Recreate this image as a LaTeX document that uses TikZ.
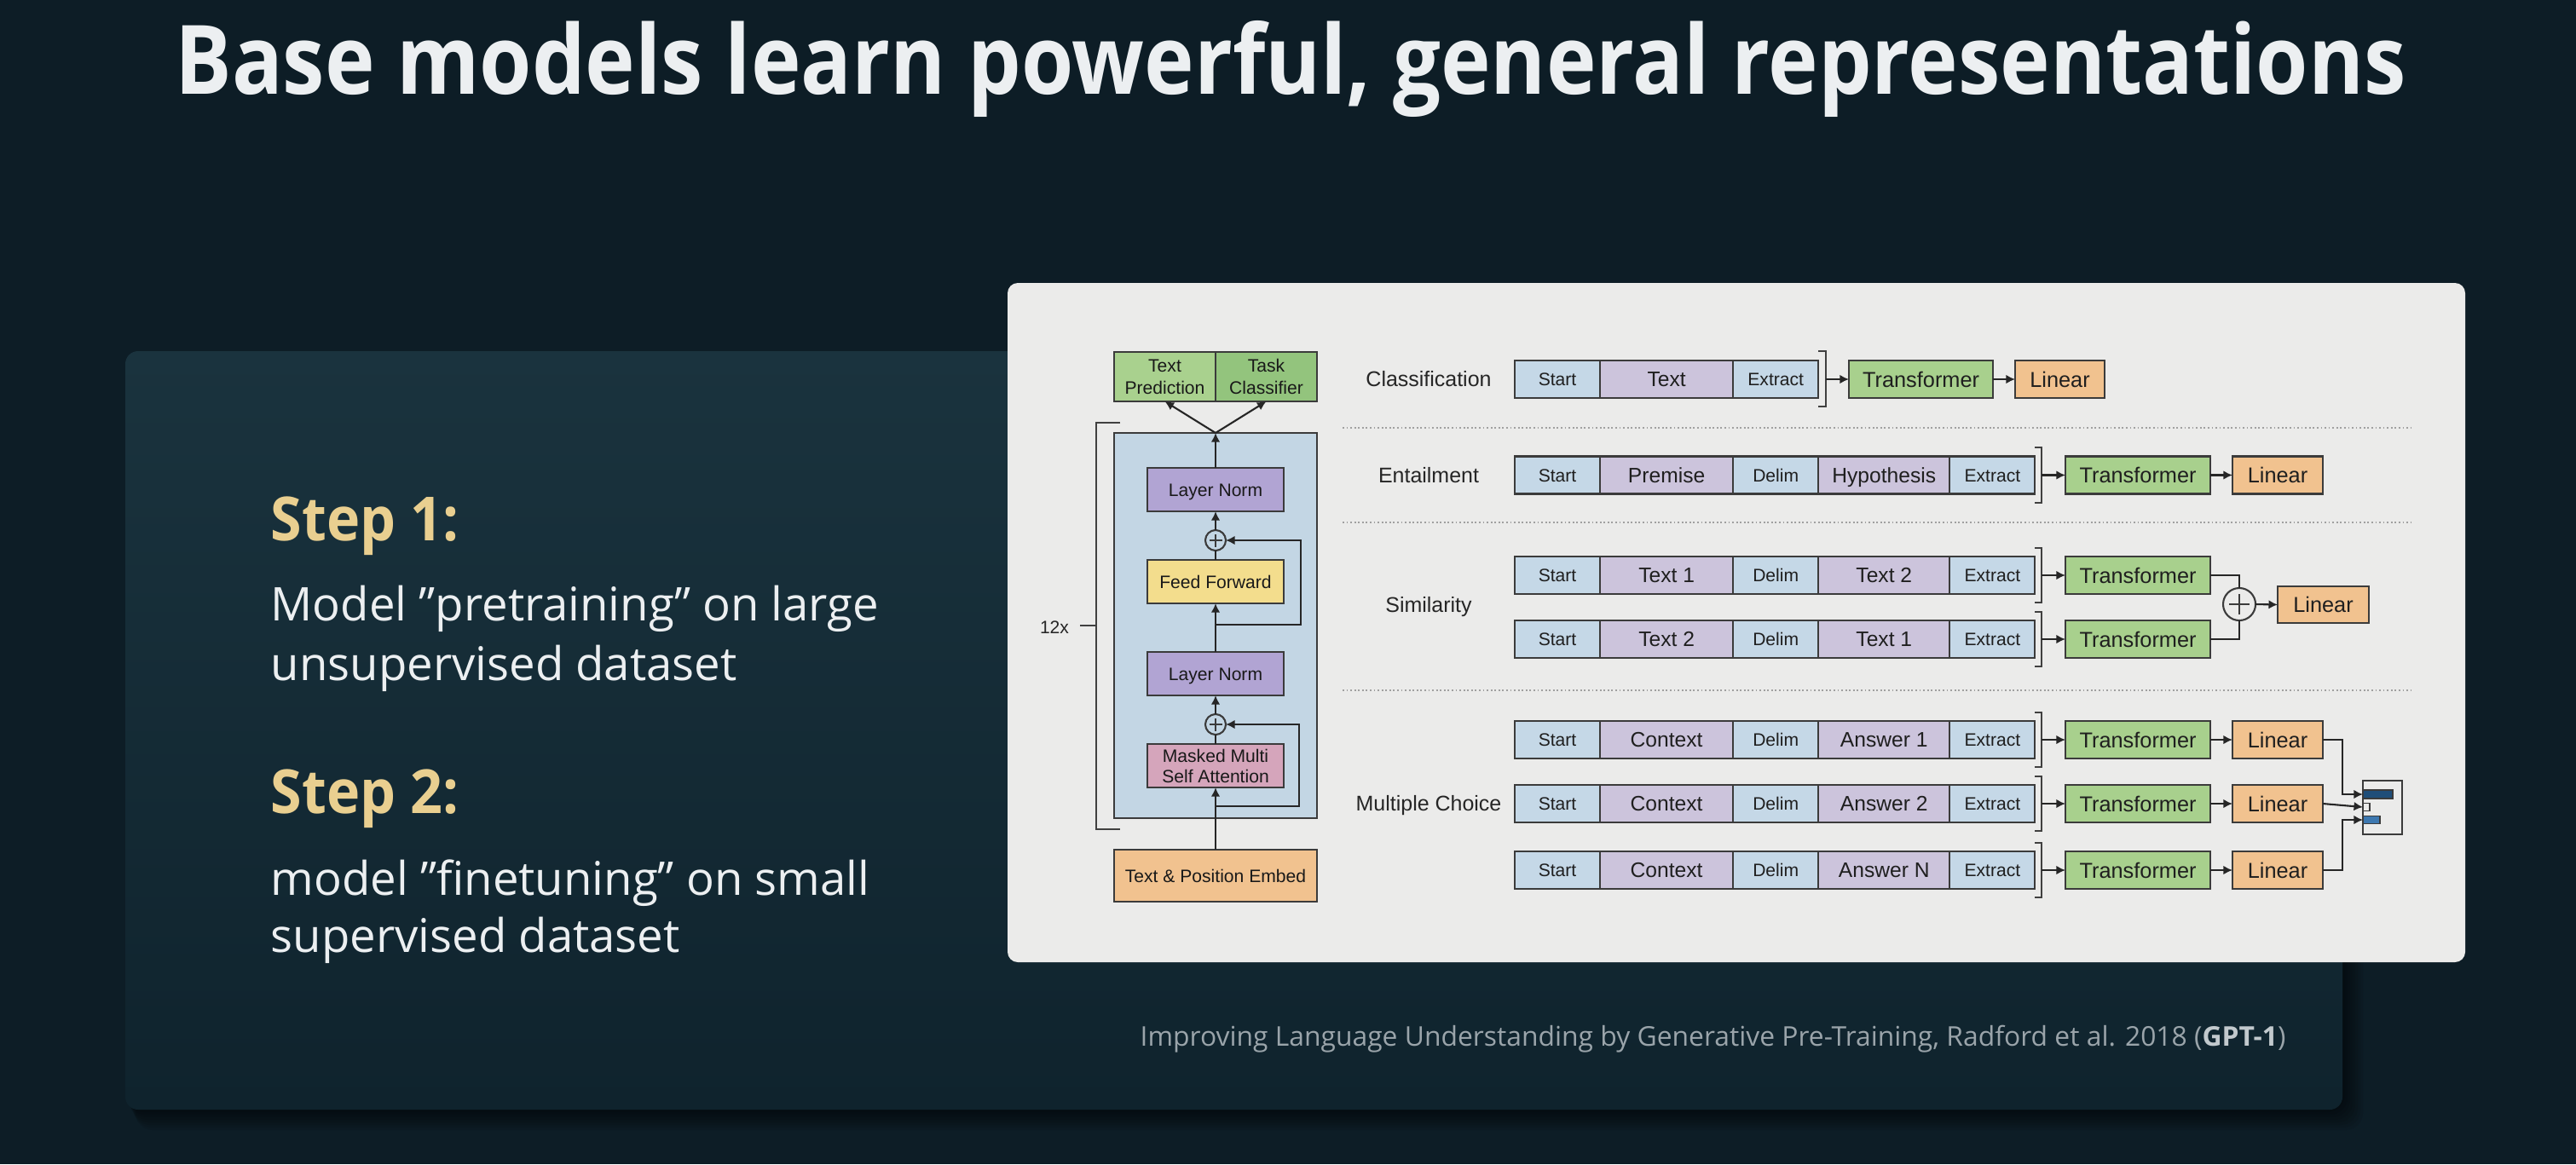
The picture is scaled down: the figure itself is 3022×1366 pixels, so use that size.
\documentclass[tikz,border=0pt]{standalone}
\usepackage{fontspec}
\setmainfont{Open Sans}
\newfontfamily\diag{Liberation Sans}
\newfontfamily\titlef{Open Sans}[FakeStretch=0.881]
\newfontfamily\stepf{Open Sans}[FakeStretch=0.93]
\usetikzlibrary{arrows.meta}
\definecolor{bgc}{HTML}{0D1D26}
\definecolor{panelTop}{HTML}{1A333E}
\definecolor{panelBot}{HTML}{0F232D}
\definecolor{whitep}{HTML}{EBEBEA}
\definecolor{gold}{HTML}{E9CF90}
\definecolor{txt}{HTML}{ECEFF1}
\definecolor{creditc}{HTML}{9AA4AA}
\definecolor{creditb}{HTML}{C2C9CD}
\definecolor{tokB}{HTML}{C5D8E7}
\definecolor{tokP}{HTML}{CCC4DC}
\definecolor{trG}{HTML}{A8D08D}
\definecolor{linO}{HTML}{F1C28F}
\definecolor{lnP}{HTML}{B1A4D3}
\definecolor{ffY}{HTML}{F3DD8D}
\definecolor{mmP}{HTML}{D5A5BB}
\definecolor{blk}{HTML}{C3D6E4}
\definecolor{tpG}{HTML}{A9D18E}
\definecolor{tcG}{HTML}{93C47D}
\definecolor{edge}{HTML}{3B3B3B}
\definecolor{sepc}{HTML}{A0A0A0}
\definecolor{bar1}{HTML}{1F4E79}
\definecolor{bar3}{HTML}{3D78B0}
\begin{document}
\begin{tikzpicture}[x=0.01cm,y=-0.01cm,
  bx/.style={draw=edge, line width=0.7pt, inner sep=0pt, outer sep=0pt, align=center, text=black!90, font=\diag\fontsize{6}{7.4}\selectfont},
  tk/.style={draw=edge, line width=0.6pt, inner sep=0pt, outer sep=0pt, minimum height=0.44cm, anchor=west, text=black!88, text height=5pt, text depth=0pt, font=\diag\fontsize{7}{8}\selectfont},
  tb/.style={tk, fill=tokB, minimum width=1cm, text height=4.3pt, font=\diag\fontsize{6}{7}\selectfont},
  tp/.style={tk, fill=tokP, minimum width=1.56cm},
  trf/.style={tk, fill=trG, minimum width=1.70cm, text height=5.2pt, font=\diag\fontsize{7.2}{8}\selectfont},
  lin/.style={tk, fill=linO, minimum width=1.06cm, text height=5.2pt, font=\diag\fontsize{7.2}{8}\selectfont},
  lab/.style={text=black!85, font=\diag\fontsize{7.1}{8}\selectfont},
  arr/.style={draw=black!85, line width=0.6pt, -{Latex[length=3pt,width=3pt]}},
  ln/.style={draw=black!85, line width=0.6pt},
  brk/.style={draw=black!75, line width=0.5pt},
  sepl/.style={draw=sepc, line width=0.7pt, dash pattern=on 0.5pt off 0.8pt},
  plusS/.style={circle, draw=edge, line width=0.6pt, minimum size=0.24cm, inner sep=0pt, outer sep=0pt, fill=blk,
    path picture={\draw[line width=0.6pt] ([xshift=-0.075cm]path picture bounding box.center) -- ([xshift=0.075cm]path picture bounding box.center) ([yshift=-0.075cm]path picture bounding box.center) -- ([yshift=0.075cm]path picture bounding box.center);}},
  plusL/.style={circle, draw=edge, line width=0.6pt, minimum size=0.38cm, inner sep=0pt, outer sep=0pt, fill=whitep,
    path picture={\draw[line width=0.8pt] ([xshift=-0.12cm]path picture bounding box.center) -- ([xshift=0.12cm]path picture bounding box.center) ([yshift=-0.12cm]path picture bounding box.center) -- ([yshift=0.12cm]path picture bounding box.center);}}
]
\useasboundingbox (0,0) rectangle (3022,1366);
% background
\fill[bgc] (0,0) rectangle (3022,1366);
% shadow of dark panel
\foreach \i in {1,...,8}{
  \fill[black, opacity=0.07, rounded corners=0.2cm] (147+\i*1.5,412+\i*1.5) rectangle (2748+\i*3,1302+\i*3);
}
% dark panel
\shade[top color=panelTop, bottom color=panelBot, rounded corners=0.15cm] (147,412) rectangle (2748,1302);
% white panel
\fill[whitep, rounded corners=0.12cm] (1182,332) rectangle (2892,1129);

% title
\node[anchor=base, text=txt, font=\titlef\bfseries\fontsize{32}{38}\selectfont, inner sep=0pt] (title) at (1514,110) {Base models learn powerful, general representations};

% left text
\node[anchor=base west, inner sep=0pt, text=gold, font=\stepf\bfseries\fontsize{20.3}{24}\selectfont] (s1) at (317,634) {Step 1:};
\node[anchor=base west, inner sep=0pt, text=txt, font=\fontsize{15.5}{19}\selectfont] (s1a) at (317,728) {Model ”pretraining” on large};
\node[anchor=base west, inner sep=0pt, text=txt, font=\fontsize{15.5}{19}\selectfont] (s1b) at (317,798) {unsupervised dataset};
\node[anchor=base west, inner sep=0pt, text=gold, font=\stepf\bfseries\fontsize{20.3}{24}\selectfont] (s2) at (317,954) {Step 2:};
\node[anchor=base west, inner sep=0pt, text=txt, font=\fontsize{15.5}{19}\selectfont] (s2a) at (317,1050) {model ”finetuning” on small};
\node[anchor=base west, inner sep=0pt, text=txt, font=\fontsize{15.5}{19}\selectfont] (s2b) at (317,1117) {supervised dataset};

% credit
\node[anchor=base west, inner sep=0pt, text=creditc, font=\fontsize{9.05}{11}\selectfont] (cred) at (1337,1227) {Improving Language Understanding by Generative Pre-Training, Radford et al. 2018 ({\bfseries\color{creditb}GPT-1})};

% ===== left column of the diagram =====
\node[bx, fill=tpG, minimum width=1.19cm, minimum height=0.58cm] (tpr) at (1366.5,442) {Text\\Prediction};
\node[bx, fill=tcG, minimum width=1.19cm, minimum height=0.58cm] (tcl) at (1485.5,442) {Task\\Classifier};
\node[bx, fill=blk, minimum width=2.38cm, minimum height=4.52cm] (blkbox) at (1426,734) {};
\node[bx, fill=lnP, minimum width=1.60cm, minimum height=0.51cm, text height=4.3pt, text depth=0pt] (ln1) at (1426,574.5) {Layer Norm};
\node[plusS] (p1) at (1426,634) {};
\node[bx, fill=ffY, minimum width=1.60cm, minimum height=0.51cm, text height=4.3pt, text depth=0pt] (ff) at (1426,682.5) {Feed Forward};
\node[bx, fill=lnP, minimum width=1.60cm, minimum height=0.51cm, text height=4.3pt, text depth=0pt] (ln2) at (1426,790.5) {Layer Norm};
\node[plusS] (p2) at (1426,850) {};
\node[bx, fill=mmP, minimum width=1.60cm, minimum height=0.51cm, font=\diag\fontsize{6}{6.8}\selectfont] (mm) at (1426,898.5) {Masked Multi\\Self Attention};
\node[bx, fill=linO, minimum width=2.38cm, minimum height=0.61cm, text height=4.3pt, text depth=0pt] (emb) at (1426,1027.5) {Text \& Position Embed};

\coordinate (btop) at (1426,508);
\coordinate (r1) at (1426,733);
\coordinate (r2) at (1426,946);
\draw[arr] (emb.north) -- (mm.south);
\draw[arr] (r2) -- ++(98,0) |- (p2.east);
\draw[ln] (mm.north) -- (p2.south);
\draw[arr] (p2.north) -- (ln2.south);
\draw[arr] (ln2.north) -- (ff.south);
\draw[arr] (r1) -- ++(100,0) |- (p1.east);
\draw[ln] (ff.north) -- (p1.south);
\draw[arr] (p1.north) -- (ln1.south);
\draw[arr] (ln1.north) -- (btop);
\draw[arr] (btop) -- (tpr.south);
\draw[arr] (btop) -- (tcl.south);

% 12x bracket
\draw[brk] (1314,496) -- (1286,496) -- (1286,973) -- (1314,973);
\coordinate (b12) at (1286,734);
\node[inner sep=0pt, text=black!85, font=\diag\fontsize{6}{7}\selectfont] (twelve) at (1237,736) {12x};
\draw[brk] (b12) -- ++(-19,0);

% separators
\draw[sepl] (1575,502) -- (2831,502);
\draw[sepl] (1575,613) -- (2831,613);
\draw[sepl] (1575,810) -- (2831,810);

% ===== Classification =====
\node[lab] (lcl) at (1676,445) {Classification};
\node[tb] (c1) at (1777,445) {Start};
\node[tp] (c2) at (c1.east) {Text};
\node[tb] (c3) at (c2.east) {Extract};
\draw[brk] (2133,412) -- (2142,412) -- (2142,477) -- (2133,477);
\coordinate (cb) at (2142,445);
\node[trf, minimum width=1.69cm] (ct) at (2169,445) {Transformer};
\node[lin, minimum width=1.05cm] (cl) at (2364,445) {Linear};
\draw[arr] (cb) -- (ct.west);
\draw[arr] (ct.east) -- (cl.west);

% ===== Entailment =====
\node[lab] (lent) at (1676,557.5) {Entailment};
\node[tb] (e1) at (1777,557.5) {Start};
\node[tp] (e2) at (e1.east) {Premise};
\node[tb] (e3) at (e2.east) {Delim};
\node[tp, minimum width=1.54cm] (e4) at (e3.east) {Hypothesis};
\node[tb] (e5) at (e4.east) {Extract};
\draw[brk] (2387,525) -- (2395,525) -- (2395,590) -- (2387,590);
\coordinate (eb) at (2395,557.5);
\node[trf] (et) at (2423,557.5) {Transformer};
\node[lin] (el) at (2619,557.5) {Linear};
\draw[arr] (eb) -- (et.west);
\draw[arr] (et.east) -- (el.west);

% ===== Similarity =====
\node[lab] (lsim) at (1676,712) {Similarity};
\node[tb] (sa1) at (1777,675) {Start};
\node[tp] (sa2) at (sa1.east) {Text 1};
\node[tb] (sa3) at (sa2.east) {Delim};
\node[tp, minimum width=1.54cm] (sa4) at (sa3.east) {Text 2};
\node[tb] (sa5) at (sa4.east) {Extract};
\node[tb] (sb1) at (1777,750) {Start};
\node[tp] (sb2) at (sb1.east) {Text 2};
\node[tb] (sb3) at (sb2.east) {Delim};
\node[tp, minimum width=1.54cm] (sb4) at (sb3.east) {Text 1};
\node[tb] (sb5) at (sb4.east) {Extract};
\draw[brk] (2387,643) -- (2395,643) -- (2395,707) -- (2387,707);
\draw[brk] (2387,718) -- (2395,718) -- (2395,782) -- (2387,782);
\coordinate (sba) at (2395,675);
\coordinate (sbb) at (2395,750);
\node[trf] (sta) at (2423,675) {Transformer};
\node[trf] (stb) at (2423,750) {Transformer};
\node[plusL] (sp) at (2627,709) {};
\node[lin, minimum width=1.07cm, minimum height=0.43cm] (sl) at (2672,709.5) {Linear};
\draw[arr] (sba) -- (sta.west);
\draw[arr] (sbb) -- (stb.west);
\draw[ln] (sta.east) -| (sp.north);
\draw[ln] (stb.east) -| (sp.south);
\draw[arr] (sp.east) -- (sl.west);

% ===== Multiple Choice =====
\node[lab] (lmc) at (1676,945) {Multiple Choice};
\node[tb] (ma1) at (1777,868) {Start};
\node[tp] (ma2) at (ma1.east) {Context};
\node[tb] (ma3) at (ma2.east) {Delim};
\node[tp, minimum width=1.54cm] (ma4) at (ma3.east) {Answer 1};
\node[tb] (ma5) at (ma4.east) {Extract};
\node[tb] (mb1) at (1777,943) {Start};
\node[tp] (mb2) at (mb1.east) {Context};
\node[tb] (mb3) at (mb2.east) {Delim};
\node[tp, minimum width=1.54cm] (mb4) at (mb3.east) {Answer 2};
\node[tb] (mb5) at (mb4.east) {Extract};
\node[tb] (mc1) at (1777,1021) {Start};
\node[tp] (mc2) at (mc1.east) {Context};
\node[tb] (mc3) at (mc2.east) {Delim};
\node[tp, minimum width=1.54cm] (mc4) at (mc3.east) {Answer N};
\node[tb] (mc5) at (mc4.east) {Extract};
\draw[brk] (2387,836) -- (2395,836) -- (2395,900) -- (2387,900);
\draw[brk] (2387,911) -- (2395,911) -- (2395,975) -- (2387,975);
\draw[brk] (2387,989) -- (2395,989) -- (2395,1053) -- (2387,1053);
\coordinate (mba) at (2395,868);
\coordinate (mbb) at (2395,943);
\coordinate (mbc) at (2395,1021);
\node[trf] (mta) at (2423,868) {Transformer};
\node[trf] (mtb) at (2423,943) {Transformer};
\node[trf] (mtc) at (2423,1021) {Transformer};
\node[lin] (mla) at (2619,868) {Linear};
\node[lin] (mlb) at (2619,943) {Linear};
\node[lin] (mlc) at (2619,1021) {Linear};
\draw[arr] (mba) -- (mta.west);
\draw[arr] (mbb) -- (mtb.west);
\draw[arr] (mbc) -- (mtc.west);
\draw[arr] (mta.east) -- (mla.west);
\draw[arr] (mtb.east) -- (mlb.west);
\draw[arr] (mtc.east) -- (mlc.west);
% output box
\node[draw=edge, line width=0.6pt, inner sep=0pt, outer sep=0pt, minimum width=0.46cm, minimum height=0.63cm] (ob) at (2795,947.5) {};
\node[draw=edge, line width=0.4pt, fill=bar1, inner sep=0pt, outer sep=0pt, minimum width=0.35cm, minimum height=0.10cm, anchor=west] (bar1n) at (2772,932) {};
\node[draw=edge, line width=0.4pt, fill=whitep, inner sep=0pt, outer sep=0pt, minimum width=0.08cm, minimum height=0.09cm, anchor=west] (bar2n) at (2772,947) {};
\node[draw=edge, line width=0.4pt, fill=bar3, inner sep=0pt, outer sep=0pt, minimum width=0.20cm, minimum height=0.09cm, anchor=west] (bar3n) at (2772,962) {};
\draw[arr] (mla.east) -- ++(23,0) |- (bar1n.west);
\draw[arr] (mlb.east) -- (bar2n.west);
\draw[arr] (mlc.east) -- ++(23,0) |- (bar3n.west);
\end{tikzpicture}
\end{document}
